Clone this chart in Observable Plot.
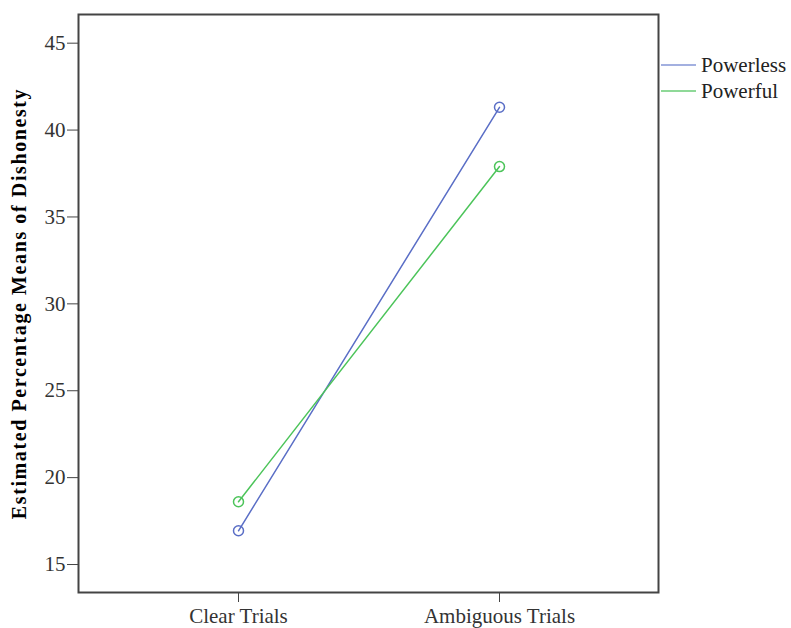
<!DOCTYPE html>
<html>
<head>
<meta charset="utf-8">
<script src="https://cdn.jsdelivr.net/npm/d3@7"></script>
<script src="https://cdn.jsdelivr.net/npm/@observablehq/plot@0.6"></script>
<style>
  html, body { margin: 0; padding: 0; background: #fff; }
  #wrap { position: relative; width: 791px; height: 628px; }
  #legend { position: absolute; left: 661px; top: 52px; font-family: "Liberation Serif", serif; font-size: 21px; color: #222; }
  .row { display: flex; align-items: center; height: 26px; }
  .sw { width: 35px; height: 2px; margin-right: 5px; }
  #chart svg text { font-family: "Liberation Serif", serif; }
</style>
</head>
<body>
<div id="wrap">
  <div id="chart"></div>
  <div id="legend"></div>
</div>
<script>
const categories = ["Clear Trials", "Ambiguous Trials"];
const seriesNames = ["Powerless", "Powerful"];
const powerless = [16.94, 41.31];
const powerful = [18.61, 37.90];
const yTicks = [15, 20, 25, 30, 35, 40, 45];
const colors = ["#5a6ec6", "#4cc45a"];
const legendColors = ["#a3b0e0", "#8fd998"];

const data = [];
categories.forEach((c, i) => {
  data.push({cat: c, series: seriesNames[0], value: powerless[i]});
  data.push({cat: c, series: seriesNames[1], value: powerful[i]});
});

const serif = "'Liberation Serif', 'Times New Roman', serif";

const chart = Plot.plot({
  width: 791,
  height: 628,
  marginLeft: 78,
  marginRight: 133,
  marginTop: 14,
  marginBottom: 36,
  style: { fontFamily: serif, background: "#fff" },
  x: { type: "point", domain: categories, padding: 0.611 },
  y: { domain: [13.39, 46.65] },
  color: { domain: seriesNames, range: colors },
  marks: [
    Plot.axisY({ ticks: yTicks, tickSize: 11, tickPadding: 2, fontSize: 21, fontFamily: serif, fill: "#333", stroke: "#444",
      label: "Estimated Percentage Means of Dishonesty", labelAnchor: "center", labelArrow: "none", labelOffset: 67 }),
    Plot.axisX({ tickSize: 10, tickPadding: 6, fontSize: 21, fontFamily: serif, fill: "#333", stroke: "#444", label: null }),
    Plot.line(data, { x: "cat", y: "value", z: "series", stroke: "series", strokeWidth: 1.5 }),
    Plot.dot(data, { x: "cat", y: "value", stroke: "series", r: 5, strokeWidth: 1.5, fill: "none" }),
    Plot.frame({ stroke: "#444", strokeWidth: 2 })
  ]
});
document.getElementById("chart").appendChild(chart);

chart.querySelectorAll("g[aria-label='y-axis label'] text, g[aria-label='y-axis label']").forEach(el => {
  el.setAttribute("font-weight", "bold");
  el.setAttribute("fill", "#000");
  el.setAttribute("font-size", "20");
  el.style.letterSpacing = "1.6px";
});

const leg = document.getElementById("legend");
seriesNames.forEach((s, i) => {
  const row = document.createElement("div");
  row.className = "row";
  const sw = document.createElement("div");
  sw.className = "sw";
  sw.style.background = legendColors[i];
  const t = document.createElement("span");
  t.textContent = s;
  row.appendChild(sw);
  row.appendChild(t);
  leg.appendChild(row);
});
</script>
</body>
</html>
